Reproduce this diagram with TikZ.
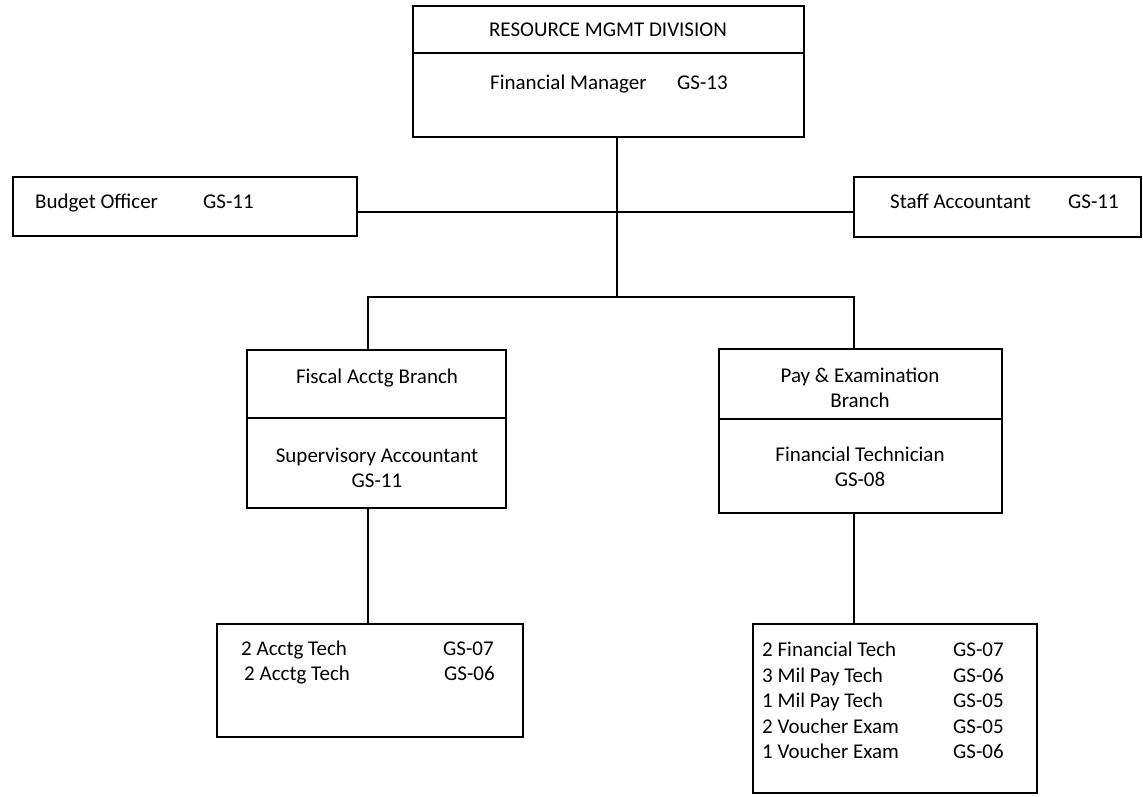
\documentclass[tikz,border=0pt]{standalone}
\usepackage{fontspec}
\setmainfont{Carlito}
\begin{document}
\begin{tikzpicture}[x=1pt,y=-1pt,
  box/.style={draw, line width=1.4pt, rectangle, inner sep=0pt},
  lbl/.style={anchor=base west, inner sep=0pt, font=\fontsize{21}{25}\selectfont},
  clbl/.style={anchor=base, inner sep=0pt, font=\fontsize{21}{25}\selectfont},
  link/.style={line width=1.4pt}]
\useasboundingbox (0,0) rectangle (1143,797);

% boxes
\node[box, minimum width=391pt, minimum height=131pt] (top) at (608.5,71.5) {};
\node[box, minimum width=344pt, minimum height=59pt] (budget) at (185,206.5) {};
\node[box, minimum width=287pt, minimum height=60pt] (staff) at (997.5,207) {};
\node[box, minimum width=259pt, minimum height=158pt] (fiscal) at (376.5,429) {};
\node[box, minimum width=283pt, minimum height=164pt] (pay) at (860.5,431) {};
\node[box, minimum width=306pt, minimum height=113pt] (acctg) at (370,680.5) {};
\node[box, minimum width=284pt, minimum height=169pt] (paytech) at (895,708.5) {};

% header dividers
\draw[link] (top.west |- 0,53) -- (top.east |- 0,53);
\draw[link] (fiscal.west |- 0,418) -- (fiscal.east |- 0,418);
\draw[link] (pay.west |- 0,419) -- (pay.east |- 0,419);

% texts
\node[clbl] (t1) at (608,37) {RESOURCE MGMT DIVISION};
\node[lbl] (t2) at (490,90) {Financial Manager};
\node[lbl] (t3) at (677,90) {GS-13};

\node[lbl] (b1) at (35,208) {Budget Officer};
\node[lbl] (b2) at (203,208) {GS-11};
\node[lbl] (s1) at (890,208) {Staff Accountant};
\node[lbl] (s2) at (1068,208) {GS-11};

\node[clbl] (f1) at (377,383) {Fiscal Acctg Branch};
\node[clbl] (f2) at (377,462) {Supervisory Accountant};
\node[clbl] (f3) at (377,487) {GS-11};

\node[clbl] (p1) at (860,382) {Pay \& Examination};
\node[clbl] (p2) at (860,407) {Branch};
\node[clbl] (p3) at (860,461) {Financial Technician};
\node[clbl] (p4) at (860,486) {GS-08};

\node[lbl] (a1) at (241,655) {2 Acctg Tech};
\node[lbl] (a2) at (443,655) {GS-07};
\node[lbl] (a3) at (244,680) {2 Acctg Tech};
\node[lbl] (a4) at (444,680) {GS-06};

\node[lbl] (r1) at (762,656) {2 Financial Tech};
\node[lbl] (g1) at (953,656) {GS-07};
\node[lbl] (r2) at (762,682) {3 Mil Pay Tech};
\node[lbl] (g2) at (953,682) {GS-06};
\node[lbl] (r3) at (762,707) {1 Mil Pay Tech};
\node[lbl] (g3) at (953,707) {GS-05};
\node[lbl] (r4) at (762,733) {2 Voucher Exam};
\node[lbl] (g4) at (953,733) {GS-05};
\node[lbl] (r5) at (762,758) {1 Voucher Exam};
\node[lbl] (g5) at (953,758) {GS-06};

% connector junctions
\coordinate (staffline) at (617,212);
\coordinate (split) at (617,297);
\coordinate (lfork) at (368,297);
\coordinate (rfork) at (854,297);

% connectors
\draw[link] (top.south -| split) -- (split);
\draw[link] (budget.east |- staffline) -- (staff.west |- staffline);
\draw[link] (fiscal.north -| lfork) -- (lfork) -- (rfork) -- (pay.north -| rfork);
\draw[link] (fiscal.south -| lfork) -- (acctg.north -| lfork);
\draw[link] (pay.south -| rfork) -- (paytech.north -| rfork);
\end{tikzpicture}
\end{document}
